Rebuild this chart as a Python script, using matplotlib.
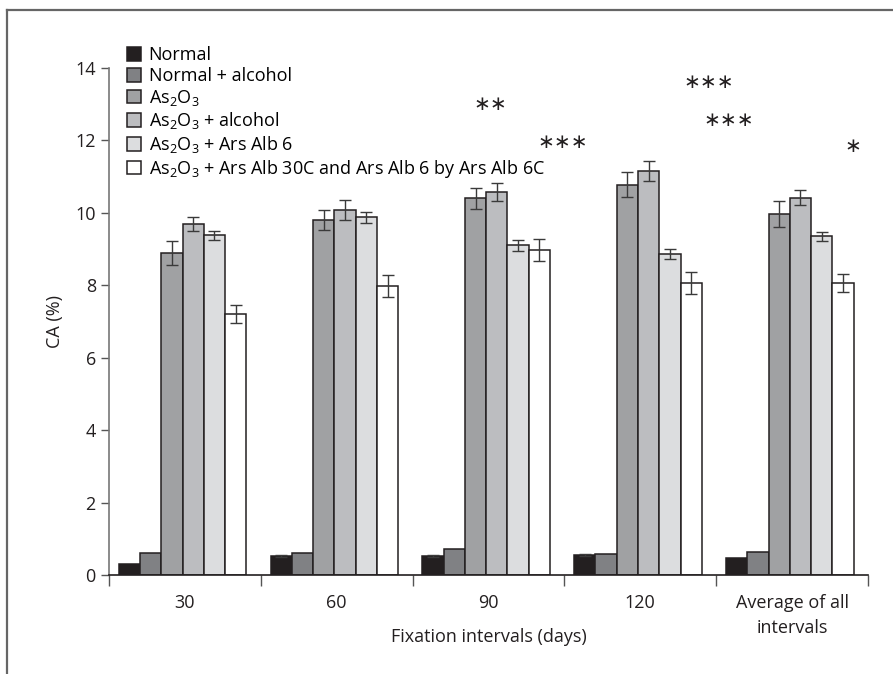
import numpy as np
import matplotlib.pyplot as plt
from matplotlib.lines import Line2D

plt.rcParams['font.family'] = ['Open Sans', 'DejaVu Sans']
plt.rcParams['mathtext.default'] = 'regular'

#interval groups and treatment series
intervals = ['30', '60', '90', '120', 'Average of all\nintervals']
groups = ['Normal', 'Normal + alcohol', 'As$_2$O$_3$', 'As$_2$O$_3$ + alcohol',
          'As$_2$O$_3$ + Ars Alb 6',
          'As$_2$O$_3$ + Ars Alb 30C and Ars Alb 6 by Ars Alb 6C']
normal = [0.30, 0.52, 0.52, 0.55, 0.48]
normal_alc = [0.60, 0.60, 0.72, 0.58, 0.62]
as2o3 = [8.90, 9.80, 10.40, 10.78, 9.97]
as2o3_alc = [9.70, 10.07, 10.57, 11.15, 10.42]
ars_alb6 = [9.38, 9.88, 9.10, 8.87, 9.35]
ars_alb30 = [7.20, 7.98, 8.97, 8.07, 8.07]
#standard errors
err_normal = [0.0, 0.03, 0.03, 0.03, 0.0]
err_normal_alc = [0.0, 0.0, 0.0, 0.0, 0.0]
err_as2o3 = [0.33, 0.28, 0.30, 0.35, 0.35]
err_as2o3_alc = [0.20, 0.28, 0.25, 0.28, 0.20]
err_ars_alb6 = [0.12, 0.15, 0.15, 0.13, 0.13]
err_ars_alb30 = [0.25, 0.30, 0.30, 0.30, 0.25]
#significance marks (x in group units, y in CA %)
star_text = ['\u2217\u2217', '\u2217\u2217\u2217', '\u2217\u2217\u2217', '\u2217\u2217\u2217', '\u2217']
star_x = [2.01, 2.49, 3.45, 3.58, 4.40]
star_y = [13.05, 12.0, 13.65, 12.6, 11.9]

values = [normal, normal_alc, as2o3, as2o3_alc, ars_alb6, ars_alb30]
errors = [err_normal, err_normal_alc, err_as2o3, err_as2o3_alc, err_ars_alb6, err_ars_alb30]
colors = ['#231f20', '#808184', '#a0a1a3', '#bcbdc0', '#dcdddf', '#ffffff']

fig = plt.figure(figsize=(8.93, 6.74), dpi=100)
ax = fig.add_axes([0.122, 0.147, 0.850, 0.752])

x = np.arange(len(intervals))
w = 0.14
for i in range(len(groups)):
    pos = x - 2.5*w - 0.015 + i*w
    ax.bar(pos, values[i], w, color=colors[i], edgecolor='#231f20',
           linewidth=1.1, label=groups[i], zorder=2)
    e = np.array(errors[i])
    mask = e > 0
    ax.errorbar(pos[mask], np.array(values[i])[mask], yerr=e[mask], fmt='none',
                ecolor='#3a3a3a', elinewidth=1.0, capsize=4, capthick=1.0, zorder=3)

for t, sx, sy in zip(star_text, star_x, star_y):
    ax.text(sx, sy, t, ha='center', va='center_baseline', fontsize=14.5,
            color='#231f20', family='DejaVu Sans')

ax.set_xlim(-0.5, 4.5)
ax.set_ylim(0, 14)
ax.set_yticks(np.arange(0, 15, 2))
ax.set_xticks(np.arange(-0.5, 5, 1))
ax.set_xticklabels([])
ax.set_xticks(x, minor=True)
ax.set_xticklabels(intervals, minor=True, fontsize=13, color='#231f20', linespacing=1.45)
ax.tick_params(axis='x', which='major', length=8, width=1, direction='out', color='#555555')
ax.tick_params(axis='x', which='minor', length=0, pad=14)
ax.tick_params(axis='y', length=6, width=1, color='#555555', labelsize=13, labelcolor='#231f20')
for s in ['top', 'right']:
    ax.spines[s].set_visible(False)
ax.spines['left'].set_color('#777777')
ax.spines['bottom'].set_color('#231f20')
ax.spines['left'].set_linewidth(1.2)
ax.spines['bottom'].set_linewidth(1.2)

ax.set_ylabel('CA (%)', fontsize=13, color='#231f20', va='center')
ax.yaxis.set_label_coords(-0.071, 0.5)
ax.set_xlabel('Fixation intervals (days)', fontsize=13, color='#231f20', va='center')
ax.xaxis.set_label_coords(0.5, -0.122)

leg = fig.legend(loc='upper left', bbox_to_anchor=(0.134, 0.942), frameon=False,
                 fontsize=13, handlelength=0.8, handleheight=0.8,
                 handletextpad=0.4, labelspacing=0.15, borderaxespad=0)

#frame around the figure
fig.add_artist(Line2D([0.008, 1.0], [0.985, 0.985], color='#666666', lw=1.6,
                      transform=fig.transFigure))
fig.add_artist(Line2D([0.008, 0.008], [0.0, 0.985], color='#666666', lw=1.6,
                      transform=fig.transFigure))

plt.savefig('out.png', dpi=100)
